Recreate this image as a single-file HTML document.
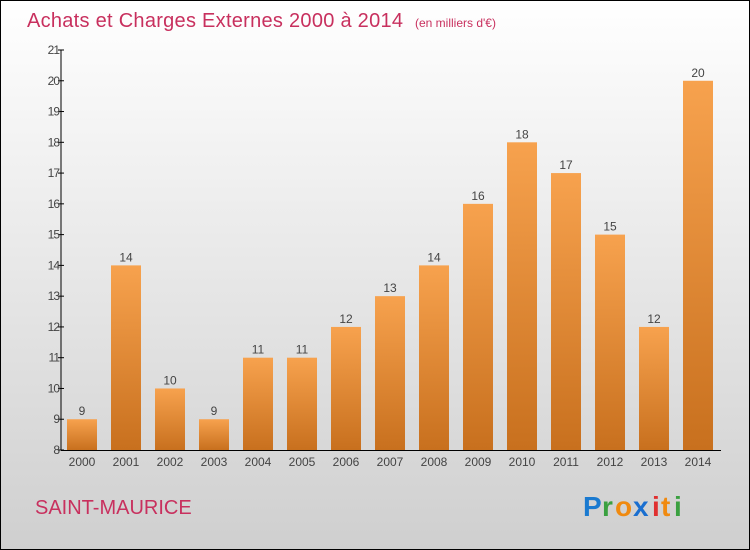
<!DOCTYPE html>
<html><head><meta charset="utf-8"><style>
body{margin:0}
svg{display:block;font-family:"Liberation Sans",sans-serif}
</style></head><body>
<svg id="c" width="750" height="550" xmlns="http://www.w3.org/2000/svg">
<defs>
<linearGradient id="bg" x1="0" y1="0" x2="0" y2="1"><stop offset="0" stop-color="#ffffff"/><stop offset="1" stop-color="#cfcfcf"/></linearGradient>
<linearGradient id="bar" x1="0" y1="0" x2="0" y2="1"><stop offset="0" stop-color="#f7a24e"/><stop offset="1" stop-color="#c8701e"/></linearGradient>
</defs>
<rect x="0.5" y="0.5" width="749" height="549" fill="url(#bg)" stroke="#000"/>
<text x="27" y="27" font-size="20" fill="#c8305e" textLength="376">Achats et Charges Externes 2000 à 2014</text>
<text x="415" y="27" font-size="12" fill="#c8305e">(en milliers d'€)</text>
<g id="bars"></g>
<g id="axes"></g>
<text x="35" y="514" font-size="20" fill="#c8305e">SAINT-MAURICE</text>
<g font-size="28" font-weight="bold">
<text x="583" y="516" fill="#1a7ad0">P</text><text x="602" y="516" fill="#3aa040">r</text><text x="615" y="516" fill="#f08a10">o</text><text x="633" y="516" fill="#1a6fd0">x</text><text x="652" y="516" fill="#e03030">i</text><text x="661" y="516" fill="#f08a10">t</text><text x="674" y="516" fill="#3aa040">i</text>
</g>
</svg>
<script>
const years=["2000","2001","2002","2003","2004","2005","2006","2007","2008","2009","2010","2011","2012","2013","2014"];
const values=[9,14,10,9,11,11,12,13,14,16,18,17,15,12,20];
const yTicks=[8,9,10,11,12,13,14,15,16,17,18,19,20,21];
const NS="http://www.w3.org/2000/svg";
const yMin=8,yMax=21,plotTop=50,plotBot=450;
const y=v=>plotBot-(v-yMin)*(plotBot-plotTop)/(yMax-yMin);
const x=i=>82+i*44;
function mk(t,a,p){const e=document.createElementNS(NS,t);for(const k in a)e.setAttribute(k,a[k]);p.appendChild(e);return e;}
const bars=document.getElementById('bars'),axes=document.getElementById('axes');
values.forEach((v,i)=>{
 const r=mk('rect',{x:x(i)-15,y:y(v),width:30,height:plotBot-y(v),fill:'url(#bar)'},bars);
 
 
 const t=mk('text',{x:x(i),y:y(v)-4,'text-anchor':'middle','font-size':12,fill:'#444'},bars);
 t.textContent=v;
 
 
 const xl=mk('text',{x:x(i),y:466,'text-anchor':'middle','font-size':12,fill:'#444'},axes);
 xl.textContent=years[i];
 
 
});
const ya=mk('line',{x1:61,y1:plotTop,x2:61,y2:plotBot,stroke:'#000'},axes);


const xa=mk('line',{x1:61,y1:plotBot+0.5,x2:721,y2:plotBot+0.5,stroke:'#000'},axes);


yTicks.forEach(v=>{
 mk('line',{x1:58,y1:y(v),x2:64,y2:y(v),stroke:'#000'},axes);
 const t=mk('text',{x:59,y:y(v)+4,'text-anchor':'end','font-size':12,fill:'#444','letter-spacing':'-1'},axes);
 t.textContent=v;
 
 
});
</script>
</body></html>
